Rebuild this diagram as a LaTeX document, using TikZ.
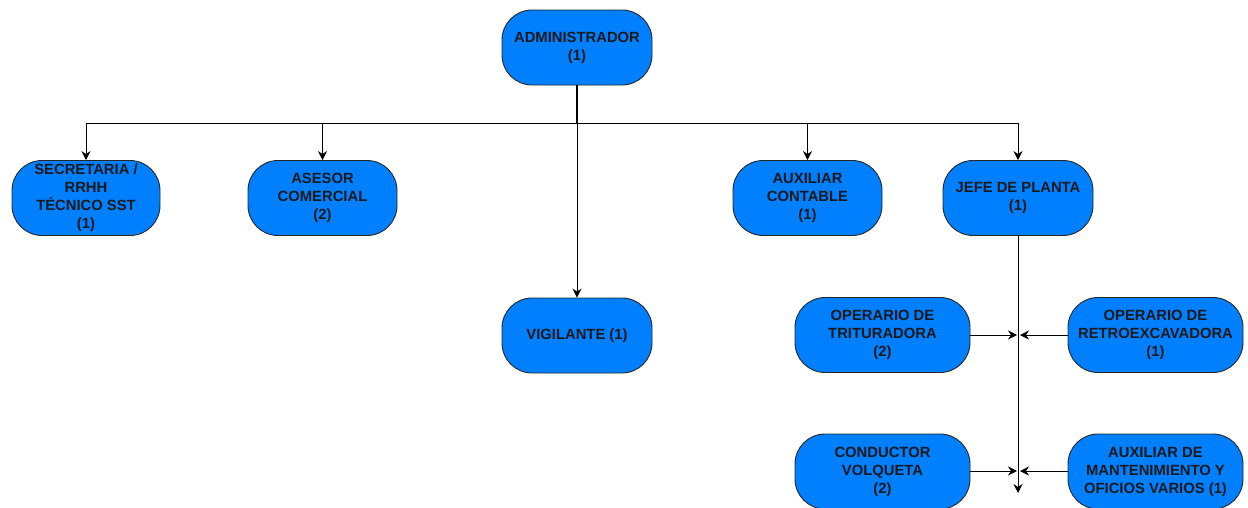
\documentclass[tikz,border=0pt]{standalone}
\usepackage{fontspec}
\setmainfont{Liberation Sans}
\usetikzlibrary{arrows.meta}
\definecolor{boxblue}{HTML}{007FFF}
\tikzset{
  orgbox/.style={draw=black!85, line width=0.9pt, fill=boxblue, rounded corners=30pt,
    minimum width=150pt, minimum height=75pt, inner sep=1pt, align=center,
    font=\fontsize{14.8}{18}\selectfont\bfseries, text=black!90},
  widebox/.style={orgbox, minimum width=175pt},
  conn/.style={draw=black, line width=0.9pt},
  arr/.style={conn, -{Stealth[length=9pt,width=9pt,inset=3pt]}},
}
\begin{document}
\begin{tikzpicture}[x=1pt,y=-1pt]
\useasboundingbox (0,0) rectangle (1248,507);
\node[orgbox] (adm) at (577,47.5) {ADMINISTRADOR\\(1)};
\node[orgbox, minimum width=148pt] (sec) at (86,198) {SECRETARIA /\\RRHH\\TÉCNICO SST\\(1)};
\node[orgbox, minimum width=149pt] (ase) at (322.5,198) {ASESOR\\COMERCIAL\\(2)};
\node[orgbox, minimum width=149pt] (aux) at (807.5,198) {AUXILIAR\\CONTABLE\\(1)};
\node[orgbox] (jefe) at (1018,198) {JEFE DE PLANTA\\(1)};
\node[orgbox] (vig) at (577,335.5) {VIGILANTE (1)};
\node[widebox] (tri) at (882.5,335) {OPERARIO DE\\TRITURADORA\\(2)};
\node[widebox] (ret) at (1155.5,335) {OPERARIO DE\\RETROEXCAVADORA\\(1)};
\node[widebox] (con) at (882.5,471.5) {CONDUCTOR\\VOLQUETA\\(2)};
\node[widebox] (man) at (1155.5,471.5) {AUXILIAR DE\\MANTENIMIENTO Y\\OFICIOS VARIOS (1)};

\coordinate (bus) at (577,123);
\draw[conn, line width=1.6pt] (adm.south) -- (bus);
\draw[arr] (bus) -| (sec.north);
\draw[arr] (bus) -| (ase.north);
\draw[arr] (bus) -- (vig.north);
\draw[arr] (bus) -| (aux.north);
\draw[arr] (bus) -| (jefe.north);

\coordinate (jend) at (1018,493);
\draw[arr] (jefe.south) -- (jend);
\coordinate (t1) at (1017,335);
\coordinate (r1) at (1020,335);
\coordinate (t2) at (1017,471);
\coordinate (r2) at (1020,471);
\draw[arr] (tri.east) -- (t1);
\draw[arr] (ret.west) -- (r1);
\draw[arr] (con.east |- t2) -- (t2);
\draw[arr] (man.west |- r2) -- (r2);
\end{tikzpicture}
\end{document}
